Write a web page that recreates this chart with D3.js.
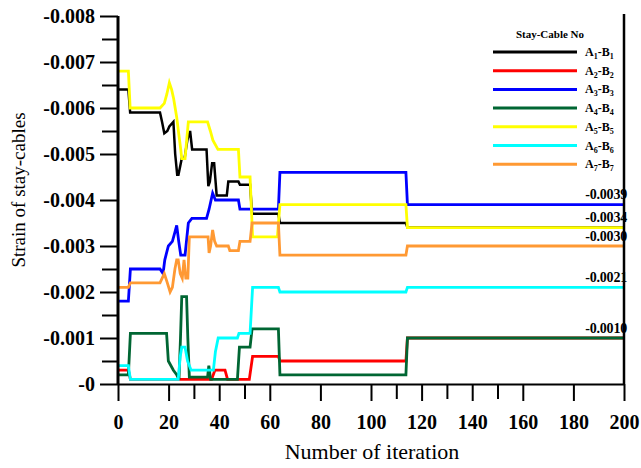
<!DOCTYPE html>
<html><head><meta charset="utf-8">
<script src="https://cdn.jsdelivr.net/npm/d3@7"></script>
<style>body{margin:0;background:#fff}svg{display:block}</style>
</head><body><svg id="c" width="641" height="468"></svg>
<script>
// ---------- data ----------
const xTicks = [0,20,40,60,80,100,120,140,160,180,200];
const xMinorTicks = [30,50,110,130,150];
const yTicks = [0,-0.001,-0.002,-0.003,-0.004,-0.005,-0.006,-0.007,-0.008];
const yTickLabels = ["-0","-0.001","-0.002","-0.003","-0.004","-0.005","-0.006","-0.007","-0.008"];
const yMinorTicks = [-0.0005,-0.0015,-0.0025,-0.0055,-0.0065,-0.0075];

const cableIndex = ["1","2","3","4","5","6","7"];
const cableColors = ["#000000","#ff0000","#0000ff","#006633","#ffff00","#00ffff","#ff9933"];

const a1b1 = [[0,-0.0064],[4.1,-0.0064],[4.8,-0.0059],[16.6,-0.0059],[17.4,-0.0057],[18.3,-0.00545],[19.5,-0.0055],[20.3,-0.0056],[21.9,-0.0057],[22.6,-0.0050],[23.4,-0.00455],[23.9,-0.00455],[25.2,-0.0049],[26.3,-0.0049],[27.4,-0.0053],[28.5,-0.0055],[29.3,-0.0051],[35,-0.0051],[35.7,-0.0043],[36.3,-0.0044],[37.2,-0.0048],[38,-0.0048],[39,-0.0041],[43,-0.0041],[43.6,-0.0044],[47.6,-0.0044],[48.2,-0.00433],[52.2,-0.00433],[53,-0.0037],[63.4,-0.0037],[64,-0.0035],[113.8,-0.0035],[114.4,-0.0034],[200,-0.0034]];
const a2b2 = [[0,-0.0003],[4.1,-0.0003],[4.9,-0.0001],[37,-0.0001],[38.3,-0.0003],[42.3,-0.0003],[43.3,-0.0001],[51.9,-0.0001],[53.2,-0.0006],[63.4,-0.0006],[64,-0.0005],[113.8,-0.0005],[114.4,-0.0010],[200,-0.0010]];
const a3b3 = [[0,-0.0018],[4.1,-0.0018],[4.9,-0.0025],[16.6,-0.0025],[17.8,-0.0024],[18.5,-0.0027],[19.9,-0.0030],[21.5,-0.0031],[22.5,-0.0033],[23.2,-0.00345],[24,-0.0031],[24.8,-0.0028],[26.5,-0.0028],[27.8,-0.0035],[29.2,-0.0036],[35,-0.0036],[36,-0.0038],[37.4,-0.00415],[38.5,-0.0040],[47.6,-0.0040],[48.2,-0.0038],[63.4,-0.0038],[64,-0.0046],[113.8,-0.0046],[114.4,-0.0039],[200,-0.0039]];
const a4b4 = [[0,-0.0002],[4.1,-0.0002],[4.9,-0.0011],[19.2,-0.0011],[19.9,-0.0005],[21.9,-0.0003],[23.2,-0.0002],[24.1,-0.0001],[24.7,-0.0010],[25.2,-0.0019],[27.1,-0.0019],[27.6,-0.0010],[28.2,-0.00015],[35.4,-0.00015],[35.9,-0.0004],[36.6,-0.0001],[47.2,-0.0001],[48,-0.0008],[52.2,-0.0008],[53,-0.0012],[63.4,-0.0012],[64,-0.0002],[113.8,-0.0002],[114.4,-0.0010],[200,-0.0010]];
const a5b5 = [[0,-0.0068],[4.1,-0.0068],[4.8,-0.0060],[16.6,-0.0060],[18.3,-0.0061],[19.3,-0.0063],[20.3,-0.00655],[21.2,-0.0064],[22,-0.0062],[23.2,-0.0058],[24.1,-0.0054],[24.8,-0.0051],[25.2,-0.0049],[26.5,-0.0049],[27.8,-0.0057],[35.4,-0.0057],[36.5,-0.0055],[37.5,-0.0053],[39.5,-0.0051],[47.6,-0.0051],[48.2,-0.0045],[52.2,-0.0045],[53.2,-0.0032],[63,-0.0032],[64,-0.0039],[113.8,-0.0039],[114.4,-0.0034],[200,-0.0034]];
const a6b6 = [[0,-0.0004],[4.1,-0.0004],[4.9,-0.0001],[23.8,-0.0001],[24.6,-0.0006],[25.2,-0.0008],[26.5,-0.0008],[27.5,-0.0005],[28.9,-0.0003],[37.7,-0.0003],[38.5,-0.0007],[39.6,-0.0010],[47.2,-0.0010],[47.8,-0.0011],[52.2,-0.0011],[53.2,-0.0021],[63.4,-0.0021],[64,-0.0020],[113.8,-0.0020],[114.4,-0.0021],[200,-0.0021]];
const a7b7 = [[0,-0.0021],[4.1,-0.0021],[4.9,-0.0022],[16.6,-0.0022],[18.3,-0.0024],[19.5,-0.0022],[20.6,-0.0020],[21.5,-0.0021],[22.5,-0.0025],[23.2,-0.0027],[23.8,-0.0027],[24.6,-0.0024],[25.4,-0.0023],[26.1,-0.0027],[26.8,-0.0023],[27.6,-0.0023],[28.2,-0.0032],[35.6,-0.0032],[36,-0.00285],[36.6,-0.0030],[37.4,-0.00335],[38.2,-0.0031],[39,-0.0030],[43.6,-0.0030],[44.2,-0.0029],[47.6,-0.0029],[48.2,-0.0031],[52.2,-0.0031],[53,-0.0035],[63.4,-0.0035],[64,-0.0028],[113.8,-0.0028],[114.4,-0.0030],[200,-0.0030]];

const endLabels = ["-0.0039","-0.0034","-0.0030","-0.0021","-0.0010"];
const endValues = [-0.0039,-0.0034,-0.0030,-0.0021,-0.0010];

const xTitle = "Number of iteration";
const yTitle = "Strain of stay-cables";
const legendTitle = "Stay-Cable No";

// ---------- drawing ----------
const series = [a1b1,a2b2,a3b3,a4b4,a5b5,a6b6,a7b7];
const svg = d3.select("#c");
const FONT = "'Liberation Serif','Times New Roman',serif";
const x = d3.scaleLinear().domain([0,200]).range([118,624]);
const y = d3.scaleLinear().domain([0,-0.008]).range([384,16]);

// lines
const line = d3.line().x(d=>x(d[0])).y(d=>y(d[1]));
svg.append("g").selectAll("path").data(series).join("path")
  .attr("d", line).attr("fill","none")
  .attr("stroke",(d,i)=>cableColors[i]).attr("stroke-width",(d,i)=>i===0?2.5:2.8)
  .attr("stroke-linejoin","miter");

// end labels
svg.append("g").selectAll("text").data(endLabels).join("text")
  .attr("x",627).attr("y",(d,i)=>y(endValues[i])-5.5)
  .attr("text-anchor","end").attr("font-family",FONT).attr("font-weight","bold")
  .attr("font-size",14).attr("letter-spacing",-0.2).text(d=>d);

// y axis
const gy = svg.append("g").attr("transform","translate(118,0)")
  .call(d3.axisLeft(y).tickValues(yTicks).tickFormat((d,i)=>yTickLabels[i]).tickSize(18).tickPadding(5).tickSizeOuter(0));
gy.select(".domain").attr("stroke-width",3).attr("d","M0,"+y(-0.008)+"V"+y(0));
gy.selectAll(".tick line").attr("stroke-width",2);
gy.selectAll("text").attr("font-family",FONT).attr("font-weight","bold").attr("font-size",20).attr("fill","#000");
const gym = svg.append("g").attr("transform","translate(118,0)")
  .call(d3.axisLeft(y).tickValues(yMinorTicks).tickFormat("").tickSize(16));
gym.select(".domain").remove();
gym.selectAll(".tick line").attr("stroke-width",2);

// x axis
const gx = svg.append("g").attr("transform","translate(0,384)")
  .call(d3.axisBottom(x).tickValues(xTicks).tickSize(17).tickPadding(14).tickSizeOuter(0));
gx.select(".domain").attr("stroke-width",2);
gx.selectAll(".tick line").attr("stroke-width",2);
gx.selectAll("text").attr("font-family",FONT).attr("font-weight","bold").attr("font-size",20).attr("fill","#000");
const gxm = svg.append("g").attr("transform","translate(0,384)")
  .call(d3.axisBottom(x).tickValues(xMinorTicks).tickFormat("").tickSize(15));
gxm.select(".domain").remove();
gxm.selectAll(".tick line").attr("stroke-width",2);

// right frame line
svg.append("line").attr("x1",x(200)).attr("x2",x(200)).attr("y1",14).attr("y2",384)
  .attr("stroke","#000").attr("stroke-width",2.5);

// titles
svg.append("text").attr("x",372).attr("y",459).attr("text-anchor","middle")
  .attr("font-family",FONT).attr("font-size",22).text(xTitle);
svg.append("text").attr("transform","translate(25,190) rotate(-90)").attr("text-anchor","middle")
  .attr("font-family",FONT).attr("font-size",19).text(yTitle);

// legend
const lg = svg.append("g");
lg.append("text").attr("x",550).attr("y",38).attr("text-anchor","middle")
  .attr("font-family",FONT).attr("font-weight","bold").attr("font-size",11).text(legendTitle);
const items = lg.selectAll("g.item").data(cableIndex).join("g").attr("class","item")
  .attr("transform",(d,i)=>`translate(0,${52+i*18.7})`);
items.append("line").attr("x1",493).attr("x2",577).attr("y1",0).attr("y2",0)
  .attr("stroke",(d,i)=>cableColors[i]).attr("stroke-width",3);
const lt = items.append("text").attr("x",585).attr("y",4)
  .attr("font-family",FONT).attr("font-weight","bold").attr("font-size",12);
lt.append("tspan").text("A");
lt.append("tspan").attr("font-size",8).attr("dy",3).text(d=>d);
lt.append("tspan").attr("dy",-3).text("-B");
lt.append("tspan").attr("font-size",8).attr("dy",3).text(d=>d);
</script></body></html>
